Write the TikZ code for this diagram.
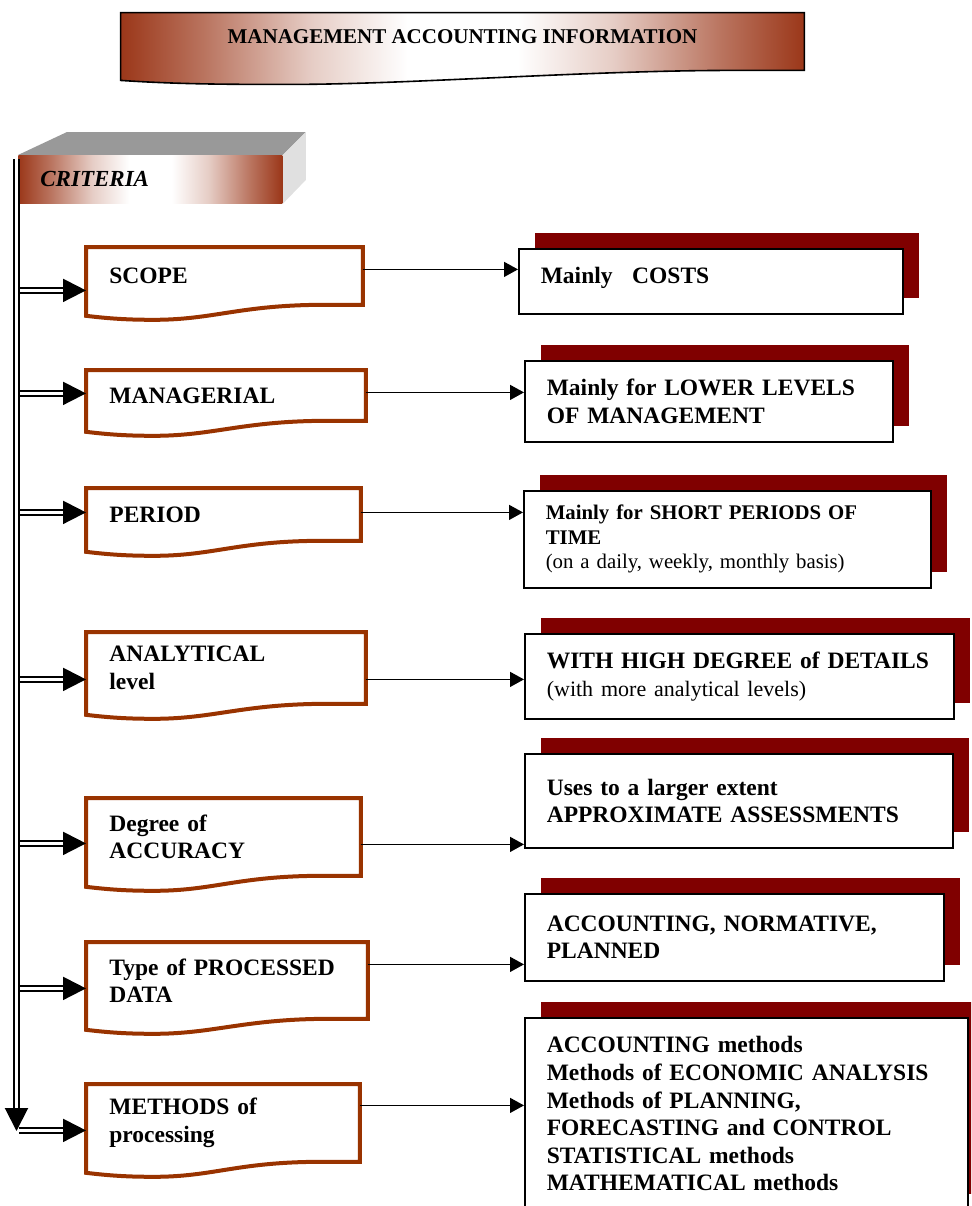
\documentclass[tikz,border=0pt]{standalone}
\usepackage{fontspec}
\setmainfont{Liberation Serif}
\usetikzlibrary{arrows.meta,calc,shadows}
\definecolor{rust}{RGB}{155,55,25}
\definecolor{boxbrown}{RGB}{153,51,0}
\definecolor{shadowred}{RGB}{128,0,0}
\definecolor{topgray}{RGB}{153,153,153}
\definecolor{sidegray}{RGB}{224,224,224}
\pgfdeclarehorizontalshading{bannershade}{100bp}{color(0bp)=(rust); color(25bp)=(rust); color(31bp)=(rust!70); color(39bp)=(rust!25); color(46bp)=(white); color(54bp)=(white); color(61bp)=(rust!25); color(69bp)=(rust!70); color(75bp)=(rust); color(100bp)=(rust)}

\begin{document}
\begin{tikzpicture}[x=0.5pt,y=-0.5pt,
    banner/.style={minimum width=341.5pt,minimum height=28.5pt,inner sep=0pt,text depth=4.5pt,
      font=\bfseries\fontsize{10.5}{12}\selectfont,
      append after command={\pgfextra{\shadedraw[shading=bannershade,line width=.8pt]
        (\tikzlastnode.north west) -- (\tikzlastnode.north east) -- (\tikzlastnode.south east)
        -- ++(-70,0) .. controls +(-150,0) and +(120,0) .. ($(\tikzlastnode.south west)+(170,14)$)
        .. controls +(-60,0) and +(60,4) .. ($(\tikzlastnode.south west)+(0,10)$) -- cycle;}}},
    crit/.style={anchor=north west,minimum height=24pt,text width=110pt,inner xsep=11pt,
      shade,shading=bannershade,font=\bfseries\itshape\fontsize{11.5}{13}\selectfont,
      append after command={\pgfextra{
        \fill[topgray] (\tikzlastnode.north west) -- ++(49,-23) -- ($(\tikzlastnode.north east)+(23,-23)$) -- (\tikzlastnode.north east) -- cycle;
        \fill[sidegray] (\tikzlastnode.north east) -- ++(23,-23) -- ++(0,48) -- (\tikzlastnode.south east) -- cycle;}}},
    lbox/.style={anchor=north west,inner xsep=11.5pt,inner ysep=0pt,align=left,
      font=\bfseries\fontsize{11.75}{13.6}\selectfont,
      append after command={\pgfextra{\draw[boxbrown,line width=2pt]
        (\tikzlastnode.north west) -- (\tikzlastnode.north east) -- (\tikzlastnode.south east)
        -- ++(-38,0) .. controls +(-85,0) and +(60,0) .. ($(\tikzlastnode.south west)+(68,15)$)
        .. controls +(-25,0) and +(25,3) .. ($(\tikzlastnode.south west)+(0,11)$) -- cycle;}}},
    rbox/.style={anchor=north west,draw,line width=.8pt,fill=white,inner xsep=11pt,align=left,
      font=\bfseries\fontsize{11.75}{13.8}\selectfont,
      drop shadow={shadow xshift=8pt,shadow yshift=8pt,fill=shadowred,opacity=1}},
    link/.style={-{Triangle[length=7pt,width=7.5pt]},line width=.7pt},
    feed/.style={double,double distance=1.1pt,line width=1pt,-{Triangle[length=11.5pt,width=11.5pt]}}]
  \clip (0,0) rectangle (971,1206);
  \node[banner] (title) at (462.5,41.5) {MANAGEMENT ACCOUNTING INFORMATION};
  \node[crit] (criteria) at (18,155) {CRITERIA};

  \node[lbox,text width=115pt,minimum height=28.5pt] (scope) at (86,247) {SCOPE};
  \node[lbox,text width=116.5pt,minimum height=25pt] (manag) at (86,370) {MANAGERIAL};
  \node[lbox,text width=114pt,minimum height=26pt] (period) at (86,488) {PERIOD};
  \node[lbox,text width=116.5pt,minimum height=35.5pt] (analyt) at (86,632) {ANALYTICAL\\level};
  \node[lbox,text width=114pt,minimum height=38.5pt] (accur) at (86,798) {Degree of\\ACCURACY};
  \node[lbox,text width=117.5pt,minimum height=38pt] (ptype) at (86,942) {\mbox{Type of PROCESSED}\\DATA};
  \node[lbox,text width=113.5pt,minimum height=38.5pt] (methods) at (86,1084) {METHODS of\\processing};

  \node[rbox,text width=170pt,minimum height=32.5pt,text depth=6pt] (costs) at (518,248) {Mainly\enspace\ COSTS};
  \node[rbox,text width=162pt,minimum height=40.5pt] (levels) at (524,360) {Mainly for LOWER LEVELS\\OF MANAGEMENT};
  \node[rbox,text width=181.5pt,minimum height=48.5pt,font=\bfseries\fontsize{10.4}{12.3}\selectfont] (shortp) at (523,490)
    {Mainly for SHORT PERIODS OF\\TIME\\\mdseries (on a daily, weekly, monthly basis)};
  \node[rbox,text width=192.5pt,minimum height=42.5pt] (details) at (524,633)
    {\mbox{WITH HIGH DEGREE of DETAILS}\\{\mdseries\fontsize{11}{13}\selectfont (with more analytical levels)}};
  \node[rbox,text width=192pt,minimum height=47pt] (approx) at (524,753) {Uses to a larger extent\\APPROXIMATE ASSESSMENTS};
  \node[rbox,text width=187.5pt,minimum height=43.5pt] (planned) at (524,893) {ACCOUNTING, NORMATIVE,\\PLANNED};
  \node[rbox,text width=199.5pt,minimum height=96pt] (methlist) at (524,1017)
    {ACCOUNTING methods\\\mbox{Methods of ECONOMIC ANALYSIS}\\Methods of PLANNING,\\FORECASTING and CONTROL\\STATISTICAL methods\\MATHEMATICAL methods};

  \coordinate (top) at (16.5,159);
  \coordinate (bot) at (16.5,1131);

  \draw[link] ([yshift=3.25pt]scope.east) -- ([yshift=3.25pt]scope.east -| costs.west);
  \draw[link] ([yshift=1.5pt]manag.east) -- ([yshift=1.5pt]manag.east -| levels.west);
  \draw[link] ([yshift=1pt]period.east) -- ([yshift=1pt]period.east -| shortp.west);
  \draw[link] ([yshift=-5.75pt]analyt.east) -- ([yshift=-5.75pt]analyt.east -| details.west);
  \draw[link] ([yshift=-3.75pt]accur.east) -- ([yshift=-3.75pt]accur.east -| approx.west);
  \draw[link] ([yshift=8pt]ptype.east) -- ([yshift=8pt]ptype.east -| planned.west);
  \draw[link] ([yshift=8.75pt]methods.east) -- ([yshift=8.75pt]methods.east -| methlist.west);

  \draw[feed] ([xshift=1pt,yshift=-7.25pt]scope.west -| top) -- ([yshift=-7.25pt]scope.west);
  \draw[feed] ([xshift=1pt,yshift=1pt]manag.west -| top) -- ([yshift=1pt]manag.west);
  \draw[feed] ([xshift=1pt,yshift=1pt]period.west -| top) -- ([yshift=1pt]period.west);
  \draw[feed] ([xshift=1pt,yshift=-5.75pt]analyt.west -| top) -- ([yshift=-5.75pt]analyt.west);
  \draw[feed] ([xshift=1pt,yshift=-3.25pt]accur.west -| top) -- ([yshift=-3.25pt]accur.west);
  \draw[feed] ([xshift=1pt,yshift=-4pt]ptype.west -| top) -- ([yshift=-4pt]ptype.west);
  \draw[feed] ([xshift=1pt,yshift=-3.75pt]methods.west -| top) -- ([yshift=-3.75pt]methods.west);
  \draw[feed] (top) -- (bot);
\end{tikzpicture}
\end{document}
